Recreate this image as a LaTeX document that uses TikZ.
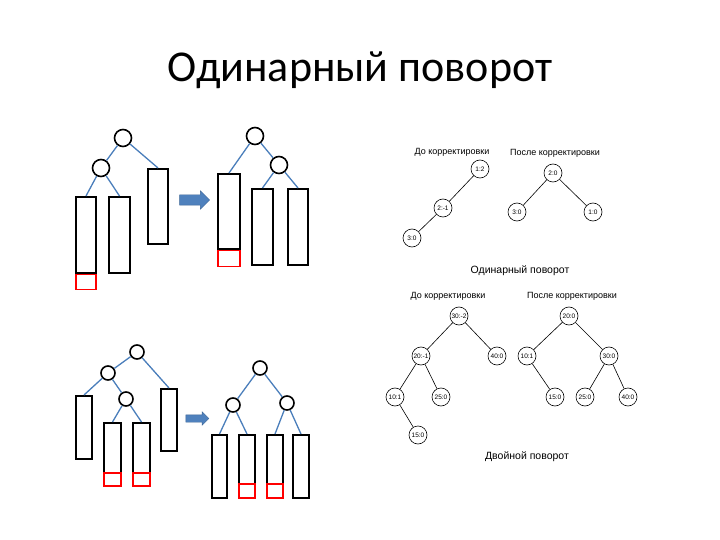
\documentclass[tikz,border=0pt]{standalone}
\usepackage{fontspec}
\setmainfont{Carlito}
\newfontfamily\smallfont{Liberation Sans}
\usetikzlibrary{shapes.arrows, positioning}

\definecolor{edgeblue}{HTML}{4A7EBB}
\definecolor{arrowblue}{HTML}{4F81BD}

\tikzset{
  knot/.style={draw, circle, line width=1.6pt, inner sep=0pt, minimum size=17pt},
  sknot/.style={draw, circle, line width=1.6pt, inner sep=0pt, minimum size=14pt},
  subtree/.style={draw, line width=1.6pt, inner sep=0pt, anchor=north},
  redbox/.style={draw=red, line width=1.2pt, inner sep=0pt},
  link/.style={edgeblue, line width=1.3pt},
  turn/.style={single arrow, fill=arrowblue, draw=arrowblue!80!black, line width=0.4pt, inner xsep=0pt},
  avl/.style={draw, circle, line width=0.6pt, inner sep=0pt, minimum size=18pt, font=\smallfont\fontsize{6.5}{7}\selectfont},
  bond/.style={line width=0.6pt},
  head/.style={font=\smallfont\fontsize{9}{10}\selectfont},
  caption/.style={font=\smallfont\fontsize{10.5}{12}\selectfont}
}

\begin{document}
\begin{tikzpicture}[x=1pt, y=-1pt]
  \useasboundingbox (0,0) rectangle (720,540);

  % Title
  \node[font=\fontsize{44}{48}\selectfont] (title) at (360,70) {Одинарный поворот};

  % Single rotation, before
  \node[knot] (s1root) at (123,138) {};
  \node[knot] (s1left) at (101,168) {};
  \node[subtree, minimum width=20pt, minimum height=76pt] (s1a) at (86,196) {};
  \node[subtree, minimum width=21pt, minimum height=76pt] (s1b) at (119.5,196) {};
  \node[subtree, minimum width=20pt, minimum height=75pt] (s1c) at (158,168) {};
  \node[redbox, anchor=north, minimum width=20pt, minimum height=15pt] (s1red) at (s1a.south) {};
  \draw[link] (s1root) -- (s1left);
  \draw[link] (s1root) -- (s1c.north);
  \draw[link] (s1left) -- (s1a.north);
  \draw[link] (s1left) -- (s1b.north);

  % Arrow
  \node[turn, inner ysep=5pt, single arrow head extend=4pt, minimum height=30pt] (s1arrow) at (192,200) {};

  % Single rotation, after
  \node[knot] (s2root) at (255,136) {};
  \node[knot] (s2right) at (279,165) {};
  \node[subtree, minimum width=22pt, minimum height=75pt] (s2a) at (229,173) {};
  \node[subtree, minimum width=21pt, minimum height=76pt] (s2b) at (262.5,188) {};
  \node[subtree, minimum width=20pt, minimum height=76pt] (s2c) at (298,188) {};
  \node[redbox, anchor=north, minimum width=22pt, minimum height=16pt] (s2red) at (s2a.south) {};
  \draw[link] (s2root) -- (s2a.north);
  \draw[link] (s2root) -- (s2right);
  \draw[link] (s2right) -- (s2b.north);
  \draw[link] (s2right) -- (s2c.north);

  % Double rotation, before
  \node[sknot] (d1root) at (137,352) {};
  \node[sknot] (d1left) at (108,373) {};
  \node[sknot] (d1mid) at (126,399) {};
  \node[subtree, minimum width=16pt, minimum height=63pt] (d1a) at (84,395) {};
  \node[subtree, minimum width=17pt, minimum height=63pt] (d1b) at (112.5,422) {};
  \node[subtree, minimum width=17pt, minimum height=63pt] (d1c) at (141.5,422) {};
  \node[subtree, minimum width=16pt, minimum height=62pt] (d1d) at (169,388) {};
  \node[redbox, anchor=south, minimum width=17pt, minimum height=13pt] (d1redb) at (d1b.south) {};
  \node[redbox, anchor=south, minimum width=17pt, minimum height=13pt] (d1redc) at (d1c.south) {};
  \draw[link] (d1root) -- (d1left);
  \draw[link] (d1root) -- (d1d.north);
  \draw[link] (d1left) -- (d1a.north);
  \draw[link] (d1left) -- (d1mid);
  \draw[link] (d1mid) -- (d1b.north);
  \draw[link] (d1mid) -- (d1c.north);

  % Arrow
  \node[turn, inner ysep=3.5pt, single arrow head extend=3pt, minimum height=23pt] (d1arrow) at (195.5,418.5) {};

  % Double rotation, after
  \node[sknot] (d2root) at (260,368) {};
  \node[sknot] (d2left) at (233,405) {};
  \node[sknot] (d2right) at (287,403) {};
  \node[subtree, minimum width=15pt, minimum height=63pt] (d2a) at (219.5,434) {};
  \node[subtree, minimum width=16pt, minimum height=63pt] (d2b) at (247,434) {};
  \node[subtree, minimum width=16pt, minimum height=63pt] (d2c) at (275,434) {};
  \node[subtree, minimum width=16pt, minimum height=63pt] (d2d) at (301,434) {};
  \node[redbox, anchor=south, minimum width=16pt, minimum height=14pt] (d2redb) at (d2b.south) {};
  \node[redbox, anchor=south, minimum width=16pt, minimum height=14pt] (d2redc) at (d2c.south) {};
  \draw[link] (d2root) -- (d2left);
  \draw[link] (d2root) -- (d2right);
  \draw[link] (d2left) -- (d2a.north);
  \draw[link] (d2left) -- (d2b.north);
  \draw[link] (d2right) -- (d2c.north);
  \draw[link] (d2right) -- (d2d.north);

  % AVL example, single rotation
  \node[head] (sbefore) at (452,152) {До корректировки};
  \node[head] (safter) at (555,153) {После корректировки};
  \node[avl] (n12) at (480,169) {1:2};
  \node[avl] (n21) at (443,208) {2:-1};
  \node[avl] (n30) at (412,238) {3:0};
  \node[avl] (m20) at (553,173) {2:0};
  \node[avl] (m30) at (517,212) {3:0};
  \node[avl] (m10) at (593,212) {1:0};
  \draw[bond] (n12) -- (n21);
  \draw[bond] (n21) -- (n30);
  \draw[bond] (m20) -- (m30);
  \draw[bond] (m20) -- (m10);
  \node[caption] (scap) at (520,271) {Одинарный поворот};

  % AVL example, double rotation
  \node[head] (dbefore) at (448,296) {До корректировки};
  \node[head] (dafter) at (572,296) {После корректировки};
  \node[avl] (k30) at (459,316) {30:-2};
  \node[avl] (k20) at (421,356) {20:-1};
  \node[avl] (k40) at (497,356) {40:0};
  \node[avl] (k10) at (395,397) {10:1};
  \node[avl] (k25) at (441,397) {25:0};
  \node[avl] (k15) at (418,435) {15:0};
  \draw[bond] (k30) -- (k20);
  \draw[bond] (k30) -- (k40);
  \draw[bond] (k20) -- (k10);
  \draw[bond] (k20) -- (k25);
  \draw[bond] (k10) -- (k15);
  \node[avl] (p20) at (569,316) {20:0};
  \node[avl] (p10) at (527,356) {10:1};
  \node[avl] (p30) at (609,356) {30:0};
  \node[avl] (p15) at (555,397) {15:0};
  \node[avl] (p25) at (585,397) {25:0};
  \node[avl] (p40) at (628,397) {40:0};
  \draw[bond] (p20) -- (p10);
  \draw[bond] (p20) -- (p30);
  \draw[bond] (p10) -- (p15);
  \draw[bond] (p30) -- (p25);
  \draw[bond] (p30) -- (p40);
  \node[caption] (dcap) at (527,457) {Двойной поворот};

\end{tikzpicture}
\end{document}
